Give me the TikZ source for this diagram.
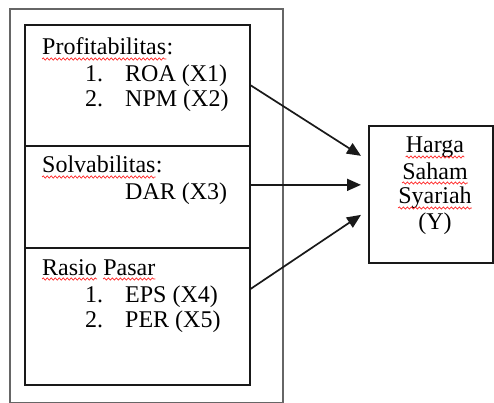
\documentclass[tikz,border=0pt]{standalone}
\usepackage{fontspec}
\setmainfont{Liberation Serif}
\usetikzlibrary{arrows.meta,calc,decorations.pathmorphing}
\begin{document}
\begin{tikzpicture}[x=1pt,y=-1pt,
  box/.style={draw=black!90,line width=1.7pt,anchor=north west,inner sep=0pt},
  frame/.style={draw=black!60,line width=2.2pt,anchor=north west,inner sep=0pt},
  txt/.style={anchor=base west,inner sep=0pt,font=\fontsize{24}{25}\selectfont},
  wave/.style={draw=red!85,line width=0.7pt,decorate,decoration={snake,segment length=4pt,amplitude=1.1pt}},
  arr/.style={draw=black!90,line width=1.7pt,-{Triangle[length=14pt,width=12pt]}}]
  \useasboundingbox (0,0) rectangle (494,403);
  \node[frame,minimum width=273,minimum height=394] (frame) at (9,8) {};
  \node[box,minimum width=225,minimum height=121] (prof) at (24,24) {};
  \node[box,minimum width=225,minimum height=102] (solv) at (24,145) {};
  \node[box,minimum width=225,minimum height=137] (pasar) at (24,247) {};
  \node[box,minimum width=124,minimum height=137] (harga) at (368,125) {};
  % left texts
  \node[txt] (prof-w) at (42,55) {Profitabilitas};
  \node[txt] (prof-c) at (prof-w.base east) {:};
  \node[txt] (roa) at (85,82) {\makebox[40pt][l]{1.}ROA (X1)};
  \node[txt] (npm) at (85,107) {\makebox[40pt][l]{2.}NPM (X2)};
  \node[txt] (solv-w) at (42,173) {Solvabilitas};
  \node[txt] (solv-c) at (solv-w.base east) {:};
  \node[txt] (dar) at (125,200) {DAR (X3)};
  \node[txt] (rasio-w) at (42,275) {Rasio};
  \node[txt] (pasar-w) at ($(rasio-w.base east)+(6,0)$) {Pasar};
  \node[txt] (eps) at (85,302) {\makebox[40pt][l]{1.}EPS (X4)};
  \node[txt] (per) at (85,327) {\makebox[40pt][l]{2.}PER (X5)};
  % right texts
  \node[txt,anchor=base] (harga-w) at (435,153) {Harga};
  \node[txt,anchor=base] (saham-w) at (435,179) {Saham};
  \node[txt,anchor=base] (syariah-w) at (435,204) {Syariah};
  \node[txt,anchor=base] (y) at (435,229) {(Y)};
  \foreach \w in {prof-w,solv-w,rasio-w,pasar-w,harga-w,saham-w,syariah-w}
    \draw[wave] ($(\w.base west)+(0,4)$) -- ($(\w.base east)+(0,4)$);
  % arrow ends
  \coordinate (in1) at ($(harga.west)+(-7,-38.5)$);
  \coordinate (in2) at ($(harga.west)+(-7,-9.5)$);
  \coordinate (in3) at ($(harga.west)+(-7,20.5)$);
  \draw[arr] (prof.east) -- (in1);
  \draw[arr] ($(solv.east)+(0,-12)$) -- (in2);
  \draw[arr] ($(pasar.east)+(0,-27.5)$) -- (in3);
\end{tikzpicture}
\end{document}
